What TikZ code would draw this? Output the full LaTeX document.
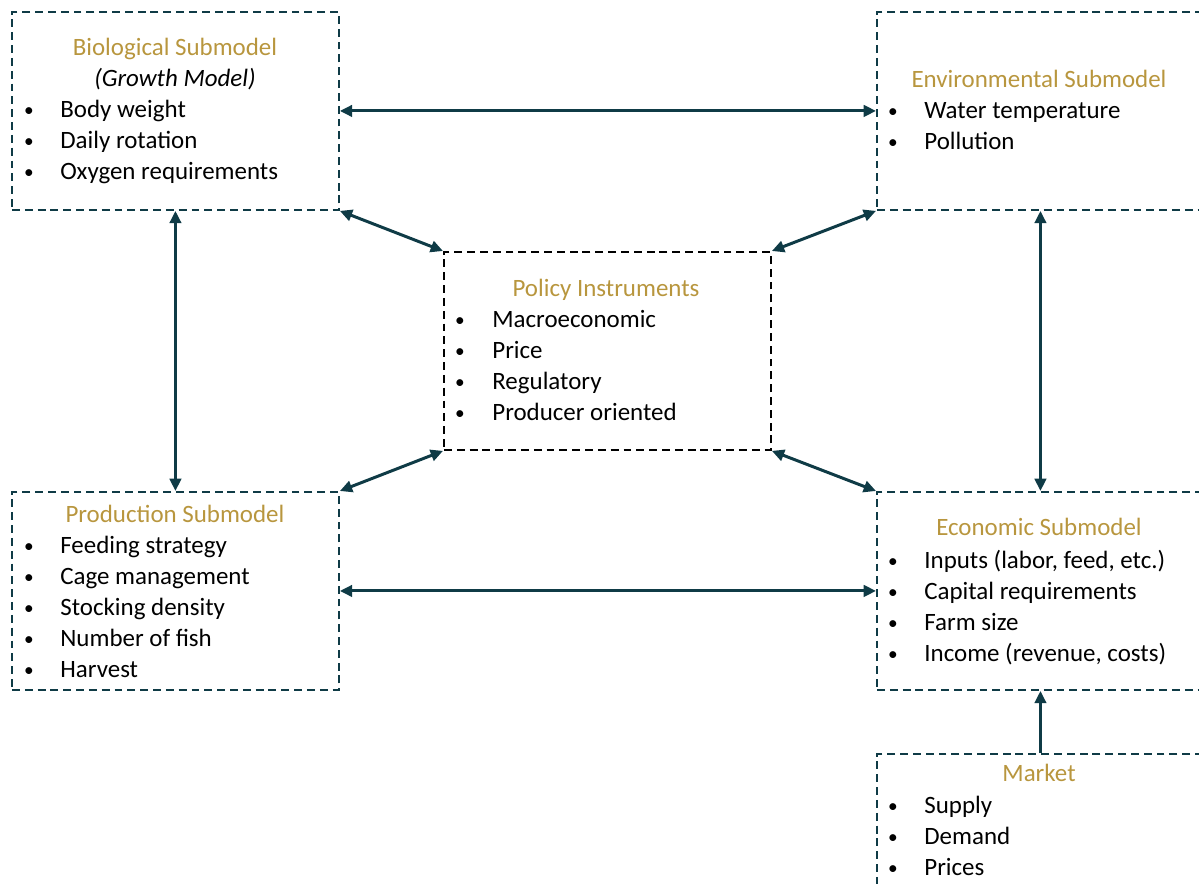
\documentclass[tikz,border=0pt]{standalone}
\usepackage{fontspec}
\setmainfont{Carlito}
\usetikzlibrary{arrows.meta}
\definecolor{boxteal}{HTML}{0F3B46}
\definecolor{titlegold}{HTML}{B8963E}

\begin{document}
\begin{tikzpicture}[x=0.02cm, y=-0.02cm,
    font=\fontsize{14.2}{17}\selectfont,
    submodel/.style={draw=boxteal, line width=1.1pt, dash pattern=on 4.5pt off 2.8pt,
        minimum width=6.54cm, minimum height=3.96cm, inner sep=0pt, anchor=north west},
    title/.style={text=titlegold, anchor=base, inner sep=0pt},
    item/.style={anchor=base west, inner sep=0pt},
    dot/.style={anchor=base, inner sep=0pt, font=\fontsize{11}{13}\selectfont},
    link/.style={{Triangle[length=7pt, width=6.5pt]}-{Triangle[length=7pt, width=6.5pt]}, line width=1.7pt, draw=boxteal},
    feed/.style={-{Triangle[length=7pt, width=6.5pt]}, line width=1.7pt, draw=boxteal}
]
    \useasboundingbox (0,0) rectangle (1199,884);
    \clip (0,0) rectangle (1199,884);

    % Boxes
    \node[submodel] (bio) at (11,11) {};
    \node[submodel] (env) at (876,11) {};
    \node[submodel, draw=black] (pol) at (443,251) {};
    \node[submodel] (prod) at (11,491) {};
    \node[submodel] (econ) at (876,491) {};
    \node[submodel] (mkt) at (876,753) {};

    % Biological submodel
    \node[title] (biot) at (175,56) {Biological Submodel};
    \node[anchor=base, inner sep=0pt] (biog) at (175,87) {\itshape (Growth Model)};
    \foreach \txt [count=\i] in {Body weight, Daily rotation, Oxygen requirements} {
        \node[dot] at (29,86+31*\i) {\textbullet};
        \node[item] at (60,87+31*\i) {\txt};
    }

    % Environmental submodel
    \node[title] (envt) at (1039,88) {Environmental Submodel};
    \foreach \txt [count=\i] in {Water temperature, Pollution} {
        \node[dot] at (893,87+31*\i) {\textbullet};
        \node[item] at (924,88+31*\i) {\txt};
    }

    % Policy instruments
    \node[title] (polt) at (606,297) {Policy Instruments};
    \foreach \txt [count=\i] in {Macroeconomic, Price, Regulatory, Producer oriented} {
        \node[dot] at (460,296+31*\i) {\textbullet};
        \node[item] at (492,297+31*\i) {\txt};
    }

    % Production submodel
    \node[title] (prodt) at (175,522) {Production Submodel};
    \foreach \txt [count=\i] in {Feeding strategy, Cage management, Stocking density, Number of fish, Harvest} {
        \node[dot] at (29,521+31*\i) {\textbullet};
        \node[item] at (60,522+31*\i) {\txt};
    }

    % Economic submodel
    \node[title] (econt) at (1039,536) {Economic Submodel};
    \foreach \txt [count=\i] in {{Inputs (labor, feed, etc.)}, Capital requirements, Farm size, {Income (revenue, costs)}} {
        \node[dot] at (893,536+31*\i) {\textbullet};
        \node[item] at (924,537+31*\i) {\txt};
    }

    % Market
    \node[title] (mktt) at (1039,781) {Market};
    \foreach \txt [count=\i] in {Supply, Demand, Prices} {
        \node[dot] at (893,781+31*\i) {\textbullet};
        \node[item] at (924,782+31*\i) {\txt};
    }

    % Connectors
    \draw[link] (bio.east) -- (env.west);
    \draw[link] (prod.east) -- (econ.west);
    \draw[link] (bio.south) -- (prod.north);
    \draw[link] (env.south) -- (econ.north);
    \draw[link] (bio.south east) -- (pol.north west);
    \draw[link] (env.south west) -- (pol.north east);
    \draw[link] (prod.north east) -- (pol.south west);
    \draw[link] (econ.north west) -- (pol.south east);
    \draw[feed] (mkt.north) -- (econ.south);
\end{tikzpicture}
\end{document}
